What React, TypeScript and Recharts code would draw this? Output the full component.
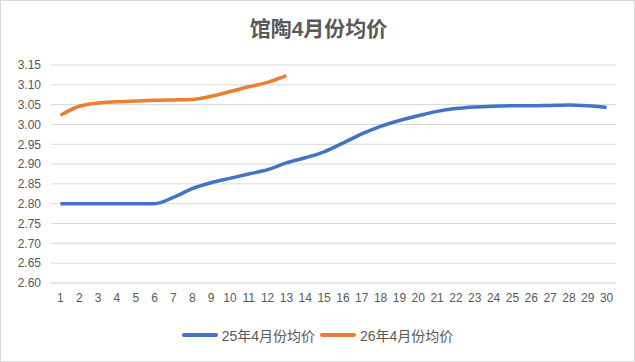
import React from 'react';
import { LineChart, Line, XAxis, YAxis, CartesianGrid, Legend } from 'recharts';

// dias do mês (eixo X)
const days = Array.from({ length: 30 }, (_, i) => String(i + 1));

const price25 = [
  2.8, 2.8, 2.8, 2.8, 2.8, 2.8, 2.816, 2.838, 2.853, 2.864,
  2.875, 2.886, 2.903, 2.916, 2.931, 2.953, 2.976, 2.995, 3.01, 3.022,
  3.033, 3.04, 3.044, 3.046, 3.047, 3.047, 3.048, 3.049, 3.047, 3.043,
];

const price26 = [
  3.023, 3.046, 3.054, 3.057, 3.059, 3.061, 3.062, 3.063, 3.071, 3.083,
  3.095, 3.106, 3.123,
];

const yTicks = [2.6, 2.65, 2.7, 2.75, 2.8, 2.85, 2.9, 2.95, 3.0, 3.05, 3.1, 3.15];

const seriesNames = ['25年4月份均价', '26年4月份均价'];
const seriesColors = ['#4472C4', '#ED7D31'];

const data = days.map((d, i) => ({
  day: d,
  a: price25[i],
  b: i < price26.length ? price26[i] : null,
}));

const FONT = '"Liberation Sans", "Noto Sans CJK SC", sans-serif';

const LegendContent = () => (
  <div style={{ display: 'flex', justifyContent: 'center', alignItems: 'center', fontFamily: FONT, fontSize: 14, color: '#595959' }}>
    {seriesNames.map((name, i) => (
      <div key={name} style={{ display: 'flex', alignItems: 'center', marginRight: i === 0 ? 5 : 0 }}>
        <span style={{ display: 'inline-block', width: 36, height: 4, borderRadius: 2, background: seriesColors[i], marginRight: 4 }} />
        <span>{name}</span>
      </div>
    ))}
  </div>
);

const App: React.FC = () => (
  <div style={{ position: 'absolute', left: 0, top: 0, width: 635, height: 362, background: '#fff', boxSizing: 'border-box', border: '1px solid #D9D9D9' }}>
    <div style={{ position: 'absolute', top: 11, left: 0, width: 635, textAlign: 'center', fontFamily: FONT, fontSize: 21, fontWeight: 'bold', color: '#595959' }}>
      馆陶4月份均价
    </div>
    <LineChart width={633} height={360} data={data} margin={{ top: 64, right: 18, bottom: 48, left: 0 }}>
      <CartesianGrid vertical={false} stroke="#D9D9D9" />
      <XAxis
        dataKey="day"
        tickLine={false}
        axisLine={{ stroke: '#D9D9D9' }}
        interval={0}
        padding={{ left: 9.4, right: 9.4 }}
        tick={{ fill: '#595959', fontSize: 12, fontFamily: FONT }}
        tickMargin={4}
        height={30}
      />
      <YAxis
        domain={[2.6, 3.15]}
        ticks={yTicks}
        interval={0}
        tickFormatter={(v: number) => v.toFixed(2)}
        tickLine={false}
        axisLine={false}
        width={50}
        tickMargin={4}
        tick={{ fill: '#595959', fontSize: 12, fontFamily: FONT }}
        allowDataOverflow
      />
      <Line type="monotone" dataKey="a" name={seriesNames[0]} stroke={seriesColors[0]} strokeWidth={3.5} dot={false} isAnimationActive={false} />
      <Line type="monotone" dataKey="b" name={seriesNames[1]} stroke={seriesColors[1]} strokeWidth={3.5} dot={false} isAnimationActive={false} />
      <Legend verticalAlign="middle" align="center" content={<LegendContent />} wrapperStyle={{ top: 324, left: 0, width: 633 }} />
    </LineChart>
  </div>
);

export default App;
